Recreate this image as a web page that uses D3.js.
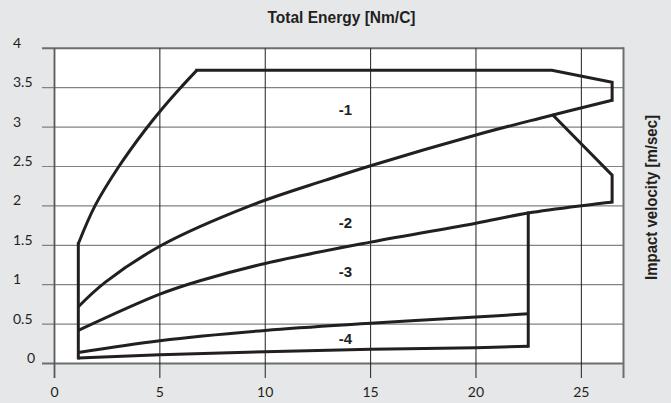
<!DOCTYPE html>
<html>
<head>
<meta charset="utf-8">
<script src="https://cdn.jsdelivr.net/npm/d3@7"></script>
<style>
  html, body { margin: 0; padding: 0; background: #e6e7e8; }
  svg { display: block; }
  .tick-label { font-family: Lato, "DejaVu Sans", sans-serif; font-size: 14px; fill: #231f20; }
  .title { font-family: "Liberation Sans Narrow", "Liberation Sans", sans-serif; font-size: 17px; font-weight: bold; fill: #231f20; }
  .zone { font-family: "Liberation Sans Narrow", "Liberation Sans", sans-serif; font-size: 15px; font-weight: bold; fill: #231f20; }
</style>
</head>
<body>
<div id="chart"></div>
<script>
// tick values
var xTicks = [0, 5, 10, 15, 20, 25];
var yTicks = [0, 0.5, 1, 1.5, 2, 2.5, 3, 3.5, 4];

// boundary lines, [energy, velocity]
var leftEdge   = [[1.13, 0.07], [1.13, 1.52]];
var upperCurve = [[1.13, 1.52], [1.92, 2.0], [3.03, 2.49], [4.29, 2.96], [5.1, 3.23], [5.95, 3.49], [6.75, 3.72]];
var topEdge    = [[6.75, 3.72], [23.6, 3.72], [26.46, 3.57], [26.46, 3.34]];
var curveA     = [[1.13, 0.72], [2.4, 1.03], [5.08, 1.5], [9.27, 2.0], [12.9, 2.33], [15, 2.51], [20, 2.9], [23, 3.11], [26.46, 3.34]];
var branch     = [[23.66, 3.15], [26.46, 2.39], [26.46, 2.05]];
var curveB     = [[1.13, 0.42], [5, 0.88], [6.9, 1.05], [10, 1.27], [15, 1.54], [20, 1.78], [22.48, 1.91], [26.46, 2.05]];
var rightEdge  = [[22.48, 1.91], [22.48, 0.22]];
var curveC     = [[1.13, 0.14], [5, 0.29], [10, 0.42], [15, 0.51], [20, 0.59], [22.48, 0.63]];
var curveD     = [[1.13, 0.07], [5, 0.11], [10, 0.15], [15, 0.18], [20, 0.2], [22.48, 0.22]];

// zone labels
var zoneNames = ["-1", "-2", "-3", "-4"];
var zoneX     = [13.8, 13.8, 13.8, 13.8];
var zoneY     = [3.22, 1.79, 1.17, 0.32];

var width = 671, height = 403;

var svg = d3.select("#chart").append("svg")
    .attr("width", width)
    .attr("height", height);

var x = d3.scaleLinear().domain([0, 27]).range([54.5, 623.5]);
var y = d3.scaleLinear().domain([0, 4]).range([363.5, 48.3]);

// plot background
svg.append("rect")
    .attr("x", x(0))
    .attr("y", y(4))
    .attr("width", x(27) - x(0))
    .attr("height", y(0) - y(4))
    .style("fill", "#fff");

// horizontal grid
svg.selectAll(".hgrid")
    .data(yTicks)
  .enter().append("line")
    .attr("class", "hgrid")
    .attr("x1", 42)
    .attr("x2", x(27))
    .attr("y1", function(d) { return y(d); })
    .attr("y2", function(d) { return y(d); })
    .style("stroke", function(d) { return (d == 0 || d == 4) ? "#6d6e70" : "#808285"; })
    .style("stroke-width", function(d) { return (d == 0 || d == 4) ? 2 : 1.2; });

// vertical grid
svg.selectAll(".vgrid")
    .data(xTicks)
  .enter().append("line")
    .attr("class", "vgrid")
    .attr("x1", function(d) { return x(d); })
    .attr("x2", function(d) { return x(d); })
    .attr("y1", y(4))
    .attr("y2", 378)
    .style("stroke", function(d) { return d == 0 ? "#58595b" : "#231f20"; })
    .style("stroke-width", function(d) { return d == 0 ? 1.8 : 1; });

// right border
svg.append("line")
    .attr("x1", x(27)).attr("x2", x(27))
    .attr("y1", y(4) - 1).attr("y2", 378)
    .style("stroke", "#6d6e70")
    .style("stroke-width", 2);

// tick labels
svg.selectAll(".ylab")
    .data(yTicks)
  .enter().append("text")
    .attr("class", "tick-label")
    .attr("x", function(d) { return d == 0 ? 27 : 13; })
    .attr("y", function(d) { return y(d) - 0.5; })
    .text(function(d) { return d; });

svg.selectAll(".xlab")
    .data(xTicks)
  .enter().append("text")
    .attr("class", "tick-label")
    .attr("x", function(d) { return x(d); })
    .attr("y", 397)
    .attr("text-anchor", "middle")
    .text(function(d) { return d; });

// titles
svg.append("text")
    .attr("class", "title")
    .attr("x", 341.5)
    .attr("y", 22.5)
    .attr("text-anchor", "middle")
    .attr("textLength", 148)
    .attr("lengthAdjust", "spacingAndGlyphs")
    .text("Total Energy [Nm/C]");

svg.append("text")
    .attr("class", "title")
    .attr("transform", "translate(656.5,197.5) rotate(-90)")
    .attr("text-anchor", "middle")
    .attr("textLength", 165)
    .attr("lengthAdjust", "spacingAndGlyphs")
    .text("Impact velocity [m/sec]");

// boundary lines
var straight = d3.line()
    .x(function(d) { return x(d[0]); })
    .y(function(d) { return y(d[1]); });
var smooth = d3.line()
    .curve(d3.curveCatmullRom.alpha(0.5))
    .x(function(d) { return x(d[0]); })
    .y(function(d) { return y(d[1]); });

[leftEdge, topEdge, branch, rightEdge].forEach(function(pts) {
  svg.append("path")
      .attr("d", straight(pts))
      .style("fill", "none")
      .style("stroke", "#231f20")
      .style("stroke-width", 3)
      .style("stroke-linejoin", "miter")
      .style("stroke-linecap", "square");
});

[upperCurve, curveA, curveB, curveC, curveD].forEach(function(pts) {
  svg.append("path")
      .attr("d", smooth(pts))
      .style("fill", "none")
      .style("stroke", "#231f20")
      .style("stroke-width", 3);
});

// zone labels
svg.selectAll(".zone")
    .data(zoneNames)
  .enter().append("text")
    .attr("class", "zone")
    .attr("x", function(d, i) { return x(zoneX[i]); })
    .attr("y", function(d, i) { return y(zoneY[i]); })
    .attr("text-anchor", "middle")
    .attr("dominant-baseline", "central")
    .text(function(d) { return d; });
</script>
</body>
</html>
